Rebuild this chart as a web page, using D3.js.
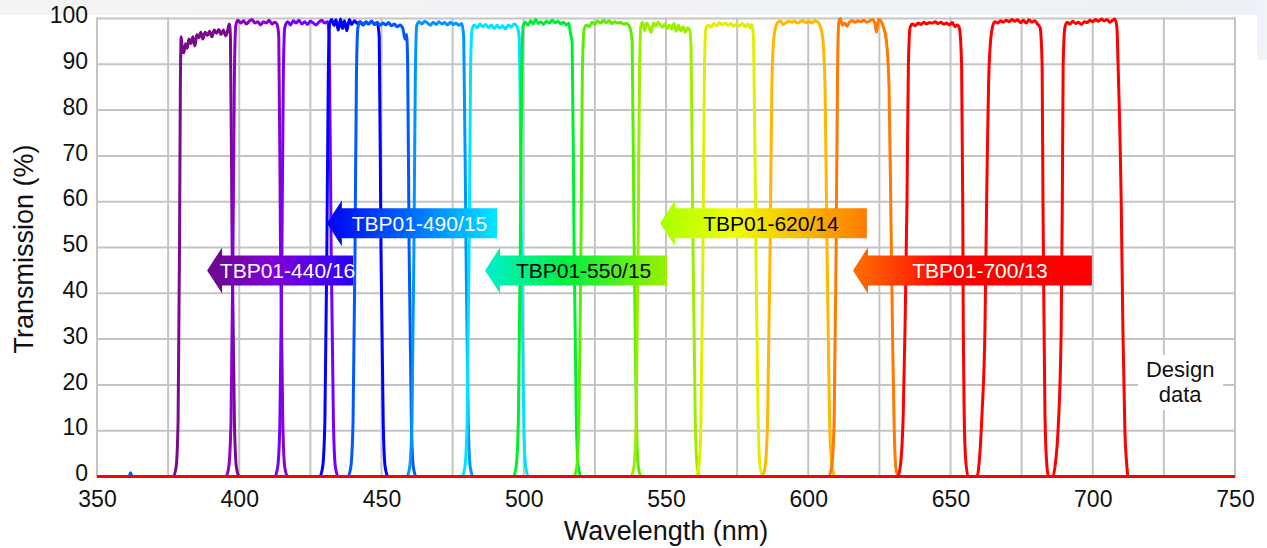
<!DOCTYPE html>
<html>
<head>
<meta charset="utf-8">
<script src="https://cdn.jsdelivr.net/npm/d3@7"></script>
<style>
  html, body { margin: 0; padding: 0; background: #ffffff; }
  svg { display: block; }
  text { font-family: "Liberation Sans", Arial, sans-serif; }
</style>
</head>
<body>
<svg id="chart" width="1267" height="548"></svg>
<script>
// ---------------- DATA (wavelength nm, transmission %) ----------------
const xTicks = [350, 400, 450, 500, 550, 600, 650, 700, 750];
const yTicks = [0, 10, 20, 30, 40, 50, 60, 70, 80, 90, 100];
const xGrid = [350, 375, 400, 425, 450, 475, 500, 525, 550, 575, 600, 625, 650, 675, 700, 725, 750];

const band01 = [[350,0],[376.8,0],[377.8,2],[378.5,12],[379.0,50],[379.3,85],[379.6,96],[380,93],[380.5,92.5],[381.1,94.5],[381.7,93.5],[382.3,95.5],[383,94.5],[383.7,96],[384.4,94],[385.1,96.5],[385.8,95.8],[386.5,97],[387.2,95.5],[388,97],[388.8,96.3],[389.6,97.2],[390.4,96],[391.2,97.5],[392,96.8],[392.8,97.6],[393.6,96.5],[394.4,97.5],[395.2,96.2],[395.9,97.3],[396.5,98.8],[396.9,96],[397.5,50],[398.3,12],[399,2],[400,0],[750,0]];
const band02 = [[350,0],[395.3,0],[396.3,2],[397.1,12],[397.8,50],[398.3,88],[398.8,98.5],[399.5,99.6],[400.5,99],[401.5,99.5],[402.5,98.8],[403.5,99.4],[404.5,99.8],[405.5,99],[406.5,99.3],[407.5,98.6],[408.5,99.3],[409.5,99],[410.5,99.6],[411.5,98.8],[412.5,99.2],[413.3,98.7],[413.9,96],[414.5,50],[415.3,12],[416,2],[417,0],[750,0]];
const band03 = [[350,0],[412.5,0],[413.5,2],[414.3,12],[415.0,50],[415.5,88],[416,98],[417,99.3],[418,98.6],[419,99.5],[420,99],[421,99.6],[422,98.8],[423,99.3],[424,98.7],[425,99.4],[426,99],[427,98.6],[428,99.2],[429,99.6],[430,99],[431,99.3],[431.6,96],[432.3,50],[433.1,12],[433.8,2],[434.8,0],[750,0]];
const band04 = [[350,0],[428.3,0],[429.3,2],[430.1,12],[430.8,50],[431.3,88],[431.8,99],[432.5,99.8],[433.3,98.5],[434,99.7],[434.8,97.5],[435.6,99.9],[436.3,97.8],[437,99.5],[437.8,97.3],[438.7,99.8],[439.5,98.7],[440.5,99.5],[441.5,98.9],[442.5,99.3],[443.5,98.6],[444.5,99.2],[445.5,98.8],[446.5,99.4],[447.5,98.7],[448.5,99],[449.2,96],[449.8,50],[450.6,12],[451.3,2],[452.3,0],[750,0]];
const band05 = [[350,0],[361.3,0],[361.8,0.8],[362.3,0],[438.2,0],[439.2,2],[440,12],[440.7,50],[441.2,88],[441.7,98],[442.5,99.2],[443.5,98.6],[444.5,99.3],[445.5,98.9],[446.5,99.4],[447.5,98.8],[448.5,99.2],[449.5,98.5],[450.5,99],[451.5,98.6],[452.5,99.1],[453.5,98.4],[454.5,98.8],[455.5,98.2],[456.5,98.6],[457.5,97.8],[458.3,95.5],[458.8,96.5],[459.2,90],[459.7,50],[460.5,12],[461.2,2],[462.2,0],[750,0]];
const band06 = [[350,0],[458.9,0],[459.9,2],[460.7,12],[461.4,50],[461.9,88],[462.4,98.5],[463.2,99.3],[464.2,98.8],[465.2,99.4],[466.2,99],[467.2,98.5],[468.2,99.2],[469.2,98.7],[470.2,99.3],[471.2,98.8],[472.2,99.1],[473.2,98.6],[474.2,99.2],[475.2,98.7],[476.2,99],[477.2,98.5],[478.2,98.9],[478.9,96],[479.7,50],[480.5,12],[481.2,2],[482.2,0],[750,0]];
const band07 = [[350,0],[478.3,0],[479.3,2],[480.1,12],[480.8,50],[481.3,88],[481.8,97.5],[482.6,98.6],[483.6,98],[484.6,98.8],[485.6,98.2],[486.6,98.7],[487.6,98],[488.6,98.6],[489.6,97.8],[490.6,98.5],[491.6,97.9],[492.6,98.4],[493.6,97.7],[494.6,98.6],[495.6,98.1],[496.6,98.8],[497.6,98.3],[498.4,96],[499.2,50],[500,12],[500.7,2],[501.7,0],[750,0]];
const band08 = [[350,0],[496.3,0],[497.3,2],[498.1,12],[498.8,50],[499.3,88],[499.8,98.5],[500.6,99.2],[501.5,98.5],[502.4,99.5],[503.3,98.8],[504.2,99.8],[505.1,98.9],[506,99.3],[507,98.7],[508,99.4],[509,99],[510,99.6],[511,99.1],[512,99.4],[513,98.8],[514,99.2],[515,98.5],[515.8,99],[516.5,96.5],[517.0,95],[517.7,50],[518.5,12],[519.2,2],[520.2,0],[750,0]];
const band09 = [[350,0],[517.6,0],[518.6,2],[519.4,12],[520.1,50],[520.6,88],[521.2,97.5],[522,98.6],[523,98.2],[524,99.2],[525,98.7],[526,99.4],[527,99],[528,99.6],[529,99.1],[530,99.5],[531,98.9],[532,99.3],[533,99],[534,99.2],[535,98.8],[536,98.9],[537.2,98.2],[538.1,95],[538.8,50],[539.6,12],[540.3,2],[541.3,0],[750,0]];
const band10 = [[350,0],[537.7,0],[538.7,2],[539.5,12],[540.2,50],[540.7,88],[541.2,98.5],[541.8,99.2],[542.5,97.3],[543.2,99],[544,98.2],[544.8,97],[545.6,99],[546.4,98.3],[547.2,99.2],[548,98.6],[548.8,98.1],[549.6,98.8],[550.4,97.8],[551.2,98.6],[552,97.7],[552.8,98.9],[553.6,97.2],[554.4,98.5],[555.2,97.3],[556,98.2],[556.8,97],[557.6,98],[558.3,97.5],[558.8,94],[559.5,50],[560.3,12],[561,2],[562,0],[750,0]];
const band11 = [[350,0],[560.5,0],[561.5,2],[562.3,12],[563,50],[563.5,88],[564,97.8],[564.8,98.6],[565.8,98.1],[566.8,98.9],[567.8,98.4],[568.8,99.1],[569.8,98.6],[570.8,99],[571.8,98.5],[572.8,98.9],[573.8,98.3],[574.8,98.8],[575.8,98.4],[576.8,98.9],[577.8,98.2],[578.8,98.8],[579.6,98],[580.1,98.7],[580.8,95],[581.6,50],[582.4,12],[583.1,2],[584.1,0],[750,0]];
const band12 = [[350,0],[583.8,0],[584.8,2],[585.7,12],[586.6,50],[587.2,85],[587.8,95],[588.5,98],[589.3,99.2],[590.2,99.4],[591.2,98.7],[592.2,99.1],[593.2,99.4],[594.2,99.2],[595.2,99.4],[596.2,99],[597.2,99.3],[598.2,99.5],[599.2,99.1],[600.2,99.4],[601.2,99],[602.2,99.5],[603.4,99.2],[604.4,98],[605.2,95],[605.9,85],[606.6,50],[607.5,12],[608.4,2],[609.4,0],[750,0]];
const band13 = [[350,0],[607.2,0],[608.2,2],[609.1,12],[609.8,50],[610.3,88],[610.7,99],[611.3,100],[612,98.5],[612.8,99],[613.6,98.3],[614.5,99.2],[615.5,99.5],[616.5,99.2],[617.5,99.5],[618.5,99.3],[619.5,99.6],[620.5,99.2],[621.5,99.4],[622.5,99.8],[623.3,99.2],[624,97],[624.7,99.8],[625.5,99.5],[626.5,98],[627.5,95],[628.4,85],[629.1,55],[629.7,28],[630.3,8],[631,1],[632,0],[750,0]];
const band14 = [[350,0],[631.5,0],[632.5,3],[633.4,14],[634,32],[634.7,60],[635.2,90],[635.8,98],[636.6,98.8],[637.6,98.4],[638.6,99],[639.6,98.7],[640.6,99.2],[641.6,98.8],[642.6,99.1],[643.6,99],[644.6,99.3],[645.6,98.9],[646.6,99.2],[647.6,98.8],[648.6,99],[649.6,98.6],[650.6,99.1],[651.6,98.2],[652.4,98.6],[653.1,98],[653.9,90],[654.3,60],[654.5,32],[654.8,14],[655.3,4],[656.2,0],[750,0]];
const band15 = [[350,0],[659.3,0],[660.2,4],[661.1,14],[662.1,32],[662.7,60],[663.6,90],[664.7,98],[665.6,99.3],[666.6,99],[667.6,99.5],[668.6,99.2],[669.6,99.6],[670.6,99.3],[671.6,99.8],[672.6,99.4],[673.6,99.7],[674.6,99.1],[675.6,99.6],[676.6,99],[677.6,99.7],[678.6,99.2],[679.6,99.5],[680.6,98.8],[681.5,98],[682.2,90],[682.5,60],[682.9,32],[683.2,14],[683.7,4],[684.5,0],[750,0]];
const band16 = [[350,0],[686,0],[686.9,3],[687.8,10],[688.9,32],[689.3,60],[689.6,90],[690.2,98],[691,99.2],[692,98.8],[693,99.4],[694,98.9],[695,99.2],[696,98.7],[697,99.3],[698,99.1],[699,99.6],[700,99.3],[701,99.8],[702,99.4],[703,99.9],[704,99.5],[705,99.8],[706,99.2],[707,99.6],[707.8,99.9],[708.5,98],[708.9,90],[710,60],[710.6,32],[711.3,10],[711.9,3],[712.4,0],[750,0]];

const bands = [band01, band02, band03, band04, band05, band06, band07, band08,
               band09, band10, band11, band12, band13, band14, band15, band16];

const filterNames = ["TBP01-440/16", "TBP01-490/15", "TBP01-550/15", "TBP01-620/14", "TBP01-700/13"];
const filterTipNm = [388.7, 430.8, 486.4, 547.9, 615.7];   // arrow tip wavelength
const filterEndNm = [440.0, 490.6, 550.4, 620.6, 699.7];   // banner right end wavelength
const filterLevel = [45, 55.3, 45, 55.3, 45];              // banner centre (%)

const noteLines = ["Design", "data"];

// ---------------- STYLE ----------------
const bandColors = ["#7a0a8c", "#8a00cc", "#7600ff", "#0000ff", "#0058ff", "#0096ff", "#00e4ff", "#00ee30",
                    "#5cee00", "#9cee00", "#e2ee00", "#ffb800", "#ff7a00", "#ff0000", "#ff0000", "#ff0000"];
const bannerStops = [
  [["0%", "#6a0a88"], ["45%", "#8200d8"], ["100%", "#2800ff"]],
  [["0%", "#0000ee"], ["45%", "#0060ff"], ["100%", "#00e8ff"]],
  [["0%", "#00f0d0"], ["45%", "#00f040"], ["100%", "#9cf000"]],
  [["0%", "#a8ff00"], ["35%", "#eeff00"], ["100%", "#ff7a00"]],
  [["0%", "#ff7000"], ["40%", "#ff0000"], ["100%", "#ff0000"]]
];
const bannerText = ["#ffffff", "#ffffff", "#000000", "#000000", "#ffffff"];

const W = 1267, H = 548;
const svg = d3.select("#chart");

// faint background tint at the top
const defs = svg.append("defs");
const bg = defs.append("linearGradient").attr("id", "bgTop").attr("x1", "0").attr("x2", "1").attr("y1", "0").attr("y2", "0");
bg.append("stop").attr("offset", "0%").attr("stop-color", "#f4f4f4");
bg.append("stop").attr("offset", "100%").attr("stop-color", "#edf1f7");
svg.append("rect").attr("x", 0).attr("y", 0).attr("width", W).attr("height", 15).attr("fill", "url(#bgTop)");
svg.append("rect").attr("x", 1257).attr("y", 0).attr("width", 10).attr("height", 60).attr("fill", "#f0f3f8");

const x = d3.scaleLinear().domain([350, 750]).range([97, 1235]);
const y = d3.scaleLinear().domain([0, 100]).range([476.5, 18.5]);

// grid
const grid = svg.append("g").attr("stroke", "#c4c4c4").attr("stroke-width", 2);
grid.selectAll("line.v").data(xGrid).join("line")
  .attr("x1", d => x(d)).attr("x2", d => x(d))
  .attr("y1", y(0)).attr("y2", y(100) - 1);
grid.selectAll("line.h").data(yTicks).join("line")
  .attr("x1", x(350) - 1).attr("x2", x(750) + 1)
  .attr("y1", d => y(d)).attr("y2", d => y(d));

// note box ("Design data") masks grid
const noteX = 723, noteY = 19;
svg.append("rect")
  .attr("x", x(noteX) - 20).attr("y", y(noteY) - 34.5)
  .attr("width", 85).attr("height", 55).attr("fill", "#ffffff");
svg.selectAll("text.note").data(noteLines).join("text")
  .attr("class", "note")
  .attr("x", x(noteX) + 22).attr("y", (d, i) => y(noteY) - 12.5 + i * 25)
  .attr("text-anchor", "middle").attr("font-size", 22).attr("fill", "#111")
  .text(d => d);

// curves
const line = d3.line().x(d => x(d[0])).y(d => y(d[1])).curve(d3.curveMonotoneX);
svg.append("g").selectAll("path").data(bands).join("path")
  .attr("d", line)
  .attr("fill", "none")
  .attr("stroke", (d, i) => bandColors[i])
  .attr("stroke-width", 3)
  .attr("stroke-linejoin", "round");

// banners
const bodyHalf = 15, headHalf = 23, headLen = 15;
filterNames.forEach((name, i) => {
  const gid = "ban" + i;
  const g = defs.append("linearGradient").attr("id", gid)
    .attr("gradientUnits", "userSpaceOnUse")
    .attr("x1", x(filterTipNm[i])).attr("x2", x(filterEndNm[i])).attr("y1", 0).attr("y2", 0);
  bannerStops[i].forEach(s => g.append("stop").attr("offset", s[0]).attr("stop-color", s[1]));
  const tx = x(filterTipNm[i]), ex = x(filterEndNm[i]), cy = y(filterLevel[i]);
  const hx = tx + headLen;
  const pts = [[tx, cy], [hx, cy - headHalf], [hx, cy - bodyHalf], [ex, cy - bodyHalf],
               [ex, cy + bodyHalf], [hx, cy + bodyHalf], [hx, cy + headHalf]];
  svg.append("path").attr("d", "M" + pts.map(p => p.join(",")).join("L") + "Z")
    .attr("fill", "url(#" + gid + ")");
  svg.append("text")
    .attr("x", (hx + ex) / 2).attr("y", cy + 7.5)
    .attr("text-anchor", "middle").attr("font-size", 21)
    .attr("fill", bannerText[i]).text(name);
});

// axes
const xAxis = svg.append("g").attr("transform", `translate(0,${y(0)})`)
  .call(d3.axisBottom(x).tickValues(xTicks).tickSize(0).tickPadding(14.5).tickFormat(d3.format("d")));
xAxis.select(".domain").remove();
xAxis.selectAll("text").attr("font-size", 23).attr("fill", "#111").attr("dy", "0.69em")
  .attr("font-family", "Liberation Sans, Arial, sans-serif");

const yAxis = svg.append("g").attr("transform", `translate(${x(350)},0)`)
  .call(d3.axisLeft(y).tickValues(yTicks).tickSize(0).tickPadding(9).tickFormat(d3.format("d")));
yAxis.select(".domain").remove();
yAxis.selectAll("text").attr("font-size", 23).attr("fill", "#111").attr("dy", "0.18em")
  .attr("font-family", "Liberation Sans, Arial, sans-serif");

// titles
svg.append("text").attr("x", 666).attr("y", 540).attr("text-anchor", "middle")
  .attr("font-size", 27).attr("fill", "#111").text("Wavelength (nm)");
svg.append("text").attr("transform", "translate(33,249) rotate(-90)")
  .attr("text-anchor", "middle").attr("font-size", 27).attr("fill", "#111").text("Transmission (%)");
</script>
</body>
</html>
